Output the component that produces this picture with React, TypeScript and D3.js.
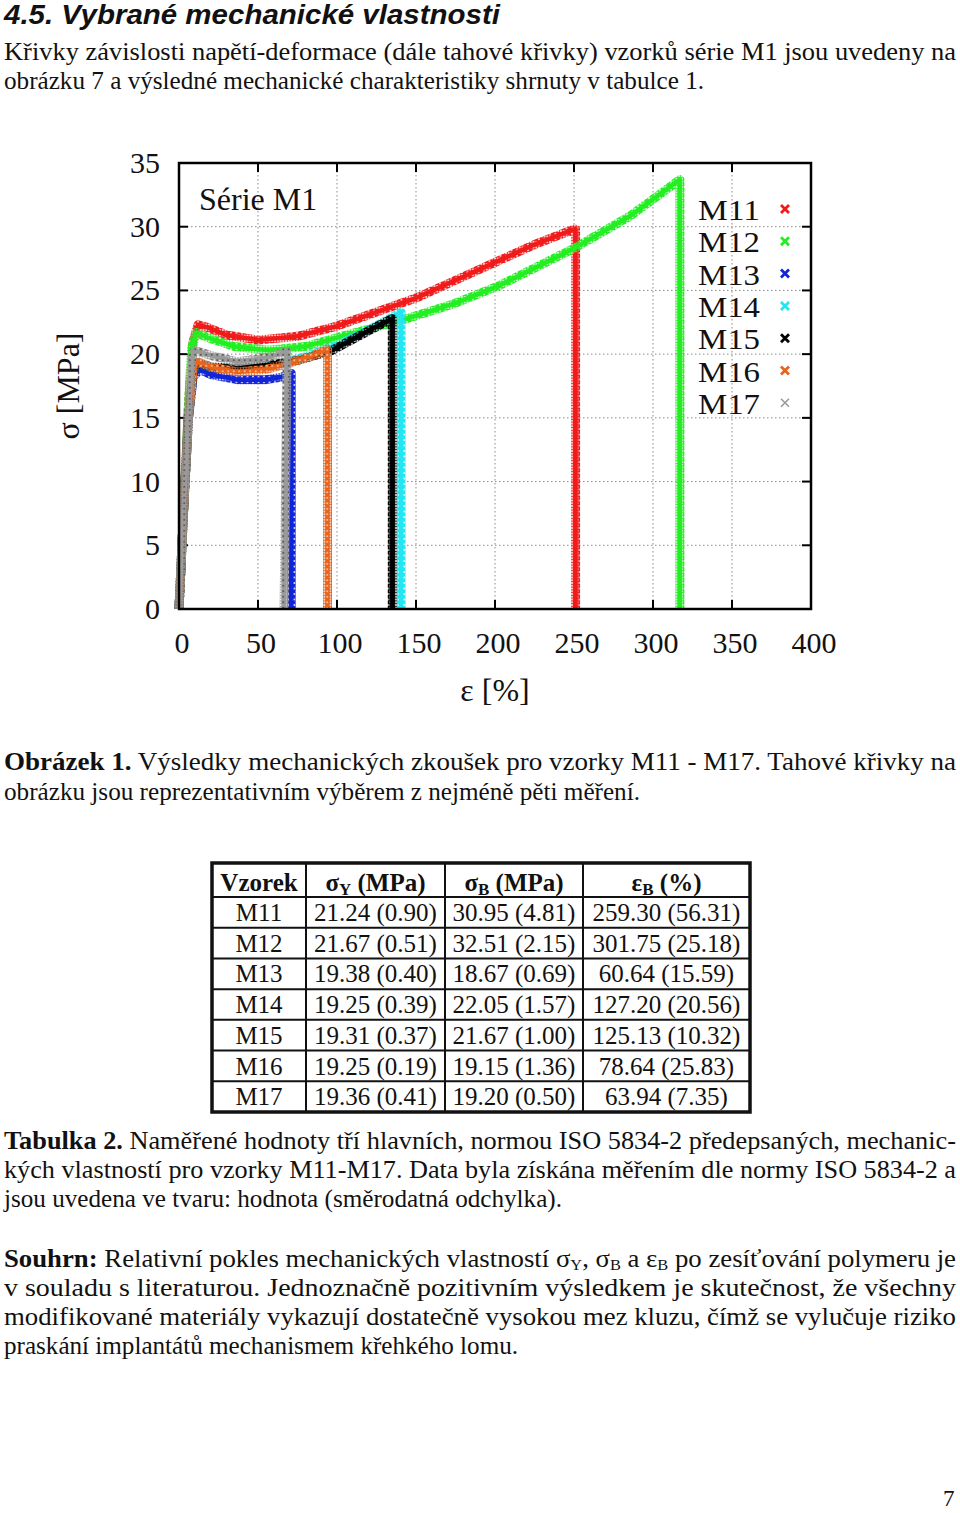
import React from 'react';
import * as d3 from 'd3';

// ---------- chart data (strain %, stress MPa) ----------
const xTicks = [0, 50, 100, 150, 200, 250, 300, 350, 400];
const yTicks = [0, 5, 10, 15, 20, 25, 30, 35];
const seriesNames = ['M11', 'M12', 'M13', 'M14', 'M15', 'M16', 'M17'];
const seriesColors = ['#f01a1a', '#22ee22', '#1224d8', '#22e6f2', '#000000', '#e8641c', '#9a9a9a'];

const M11: [number, number][] = [[0, 0], [3, 8], [6, 16], [9, 21], [12, 22.3], [18, 22.1], [30, 21.5], [50, 21.1], [75, 21.4], [100, 22.2], [125, 23.3], [150, 24.4], [175, 25.8], [200, 27.2], [225, 28.6], [250, 29.8], [251, 29.8], [251, 0]];
const M12: [number, number][] = [[0, 0], [3, 8], [6, 16], [8, 20.5], [11, 21.7], [18, 21.3], [35, 20.6], [57, 20.3], [80, 20.6], [100, 21.3], [142, 22.7], [175, 24.0], [203, 25.4], [250, 28.3], [285, 30.8], [317, 33.7], [317, 0]];
const M13: [number, number][] = [[0, 0], [3, 8], [6, 15], [9, 18.2], [13, 18.8], [20, 18.4], [37, 18.0], [55, 18.0], [65, 18.2], [71, 18.5], [71, 0]];
const M14: [number, number][] = [[0, 0], [3, 8], [6, 15], [9, 18.6], [12, 19.3], [20, 19.0], [40, 18.8], [60, 19.1], [80, 19.8], [100, 20.7], [120, 21.9], [135, 22.9], [140.5, 23.3], [140.5, 0]];
const M15: [number, number][] = [[0, 0], [3, 8], [6, 15], [9, 18.6], [12, 19.3], [20, 19.0], [37, 18.9], [60, 19.2], [75, 19.5], [97, 20.3], [121, 21.9], [135, 22.8], [135, 0]];
const M16: [number, number][] = [[0, 0], [3, 8], [6, 15], [9, 18.8], [12, 19.4], [20, 19.0], [37, 18.6], [55, 18.8], [70, 19.3], [85, 19.9], [94, 20.4], [94, 0]];
const M17: [number, number][] = [[0, 0], [3, 8], [6, 15], [8, 19.6], [10, 20.3], [20, 19.9], [37, 19.4], [55, 19.7], [68.5, 20.2], [66.5, 0]];
const seriesData = [M11, M12, M13, M14, M15, M16, M17];

// ---------- table data ----------
const tableSamples = ['M11', 'M12', 'M13', 'M14', 'M15', 'M16', 'M17'];
const sigmaY = ['21.24 (0.90)', '21.67 (0.51)', '19.38 (0.40)', '19.25 (0.39)', '19.31 (0.37)', '19.25 (0.19)', '19.36 (0.41)'];
const sigmaB = ['30.95 (4.81)', '32.51 (2.15)', '18.67 (0.69)', '22.05 (1.57)', '21.67 (1.00)', '19.15 (1.36)', '19.20 (0.50)'];
const epsB = ['259.30 (56.31)', '301.75 (25.18)', '60.64 (15.59)', '127.20 (20.56)', '125.13 (10.32)', '78.64 (25.83)', '63.94 (7.35)'];

const serif = "'Liberation Serif', 'Times New Roman', serif";
const sans = "'Liberation Sans', Arial, sans-serif";

function Line({ x, y, w, size = 24.5, children }: any) {
  return (
    <text x={x} y={y} fontSize={size} textLength={w} lengthAdjust="spacingAndGlyphs" fill="#111">
      {children}
    </text>
  );
}

export default function App() {
  const x = d3.scaleLinear().domain([0, 400]).range([179, 811]);
  const y = d3.scaleLinear().domain([0, 35]).range([609, 163]);
  const line = d3.line<[number, number]>().x((d) => x(d[0])).y((d) => y(d[1]));
  const L = 179, R = 811, T = 163, B = 609;

  const colX = [212, 306, 445, 583, 750];
  const tTop = 863, tHead = 897, tBot = 1112;
  const rowH = (tBot - tHead) / 7;
  const colC = colX.slice(0, 4).map((v, i) => (v + colX[i + 1]) / 2);

  return (
    <svg width={960} height={1513} style={{ position: 'absolute', left: 0, top: 0, background: '#fff' }} fontFamily={serif}>
      <rect width={960} height={1513} fill="#fff" />
      <defs>
        {seriesColors.map((c, i) => (
          <pattern key={i} id={`px${i}`} width={5.5} height={5.5} patternUnits="userSpaceOnUse">
            <path d="M0.6,0.6L4.9,4.9M4.9,0.6L0.6,4.9" stroke={c} strokeWidth={2.2} />
            {i === 6 && <circle cx={2.75} cy={2.75} r={0.9} fill="#4a4a4a" />}
            {i === 5 && <circle cx={2.75} cy={2.75} r={0.8} fill="#fff" />}
          </pattern>
        ))}
      </defs>

      {/* heading */}
      <text x={4} y={24} fontFamily={sans} fontWeight="bold" fontStyle="italic" fontSize={27} textLength={496} lengthAdjust="spacingAndGlyphs" fill="#111">4.5. Vybrané mechanické vlastnosti</text>
      <Line x={4} y={60} w={952}>Křivky závislosti napětí-deformace (dále tahové křivky) vzorků série M1 jsou uvedeny na</Line>
      <Line x={4} y={89} w={700}>obrázku 7 a výsledné mechanické charakteristiky shrnuty v tabulce 1.</Line>

      {/* chart grid */}
      <g stroke="#8a8a8a" strokeWidth={1} strokeDasharray="1.5 2.5">
        {xTicks.slice(1, -1).map((t) => (
          <line key={t} x1={x(t)} x2={x(t)} y1={T} y2={B} />
        ))}
        {yTicks.slice(1, -1).map((t) => (
          <line key={t} x1={L} x2={R} y1={y(t)} y2={y(t)} />
        ))}
      </g>

      {/* ticks */}
      <g stroke="#000" strokeWidth={2}>
        {xTicks.map((t) => (
          <g key={t}>
            <line x1={x(t)} x2={x(t)} y1={B} y2={B - 9} />
            <line x1={x(t)} x2={x(t)} y1={T} y2={T + 9} />
          </g>
        ))}
        {yTicks.map((t) => (
          <g key={t}>
            <line x1={L} x2={L + 9} y1={y(t)} y2={y(t)} />
            <line x1={R} x2={R - 9} y1={y(t)} y2={y(t)} />
          </g>
        ))}
      </g>

      {/* curves */}
      {seriesData.map((d, i) => (
        <g key={i}>
          <path d={line(d) || ''} fill="none" stroke={seriesColors[i]} strokeWidth={4.5} strokeLinejoin="round" />
          <path d={line(d) || ''} fill="none" stroke={`url(#px${i})`} strokeWidth={9} strokeLinejoin="round" />
        </g>
      ))}

      {/* frame */}
      <rect x={L} y={T} width={R - L} height={B - T} fill="none" stroke="#000" strokeWidth={2.5} />

      {/* tick labels */}
      <g fontSize={30} fill="#111">
        {yTicks.map((t) => (
          <text key={t} x={160} y={y(t) + 10} textAnchor="end">{t}</text>
        ))}
        {xTicks.map((t) => (
          <text key={t} x={x(t) + 3} y={653} textAnchor="middle">{t}</text>
        ))}
      </g>
      <text x={495} y={701} fontSize={32} textAnchor="middle" fill="#111">ε [%]</text>
      <text transform="translate(79,386) rotate(-90)" fontSize={32} textAnchor="middle" fill="#111">σ [MPa]</text>
      <text x={199} y={210} fontSize={32} fill="#111">Série M1</text>

      {/* legend */}
      {seriesNames.map((n, i) => {
        const by = 220 + i * 32.3;
        const cx = 785, cy = by - 11;
        return (
          <g key={n}>
            <text x={698} y={by} fontSize={29} textLength={62} lengthAdjust="spacingAndGlyphs" fill="#111">{n}</text>
            <path d={`M${cx - 4},${cy - 4}L${cx + 4},${cy + 4}M${cx + 4},${cy - 4}L${cx - 4},${cy + 4}`} stroke={seriesColors[i]} strokeWidth={i === 6 ? 1.6 : 2.8} />
          </g>
        );
      })}

      {/* caption */}
      <Line x={4} y={770} w={952}><tspan fontWeight="bold">Obrázek 1.</tspan> Výsledky mechanických zkoušek pro vzorky M11 - M17. Tahové křivky na</Line>
      <Line x={4} y={800} w={636}>obrázku jsou reprezentativním výběrem z nejméně pěti měření.</Line>

      {/* table */}
      <g stroke="#111" fill="none">
        <rect x={colX[0]} y={tTop} width={colX[4] - colX[0]} height={tBot - tTop} strokeWidth={3.5} />
        {colX.slice(1, 4).map((cx) => (
          <line key={cx} x1={cx} x2={cx} y1={tTop} y2={tBot} strokeWidth={2} />
        ))}
        <line x1={colX[0]} x2={colX[4]} y1={tHead} y2={tHead} strokeWidth={2} />
        {d3.range(1, 7).map((r) => (
          <line key={r} x1={colX[0]} x2={colX[4]} y1={tHead + r * rowH} y2={tHead + r * rowH} strokeWidth={2} />
        ))}
      </g>
      <g fontSize={25} fontWeight="bold" fill="#111" textAnchor="middle">
        <text x={colC[0]} y={891}>Vzorek</text>
        <text x={colC[1]} y={891}>σ<tspan fontSize={17} dy={4}>Y</tspan><tspan dy={-4}> (MPa)</tspan></text>
        <text x={colC[2]} y={891}>σ<tspan fontSize={17} dy={4}>B</tspan><tspan dy={-4}> (MPa)</tspan></text>
        <text x={colC[3]} y={891}>ε<tspan fontSize={17} dy={4}>B</tspan><tspan dy={-4}> (%)</tspan></text>
      </g>
      <g fontSize={25} fill="#111" textAnchor="middle">
        {tableSamples.map((s, r) => {
          const by = tHead + r * rowH + 24;
          return (
            <g key={s}>
              <text x={colC[0]} y={by}>{s}</text>
              <text x={colC[1]} y={by}>{sigmaY[r]}</text>
              <text x={colC[2]} y={by}>{sigmaB[r]}</text>
              <text x={colC[3]} y={by}>{epsB[r]}</text>
            </g>
          );
        })}
      </g>

      {/* table caption */}
      <Line x={4} y={1149} w={952}><tspan fontWeight="bold">Tabulka 2.</tspan>  Naměřené hodnoty tří hlavních, normou ISO 5834-2 předepsaných,   mechanic-</Line>
      <Line x={4} y={1178} w={952}>kých vlastností pro vzorky M11-M17. Data byla získána měřením dle normy ISO 5834-2 a</Line>
      <Line x={4} y={1207} w={558}>jsou uvedena ve tvaru: hodnota (směrodatná odchylka).</Line>

      {/* summary */}
      <Line x={4} y={1267} w={952}><tspan fontWeight="bold">Souhrn:</tspan> Relativní pokles mechanických vlastností σ<tspan fontSize={15} dy={3}>Y</tspan><tspan dy={-3}>, σ</tspan><tspan fontSize={15} dy={3}>B</tspan><tspan dy={-3}> a ε</tspan><tspan fontSize={15} dy={3}>B</tspan><tspan dy={-3}> po zesíťování polymeru je</tspan></Line>
      <Line x={4} y={1296} w={952}>v souladu  s literaturou. Jednoznačně pozitivním výsledkem je skutečnost, že všechny</Line>
      <Line x={4} y={1325} w={952}>modifikované materiály vykazují dostatečně vysokou mez kluzu, čímž se vylučuje riziko</Line>
      <Line x={4} y={1354} w={514}>praskání implantátů mechanismem křehkého lomu.</Line>

      <text x={943} y={1506} fontSize={23} fill="#111">7</text>
    </svg>
  );
}
